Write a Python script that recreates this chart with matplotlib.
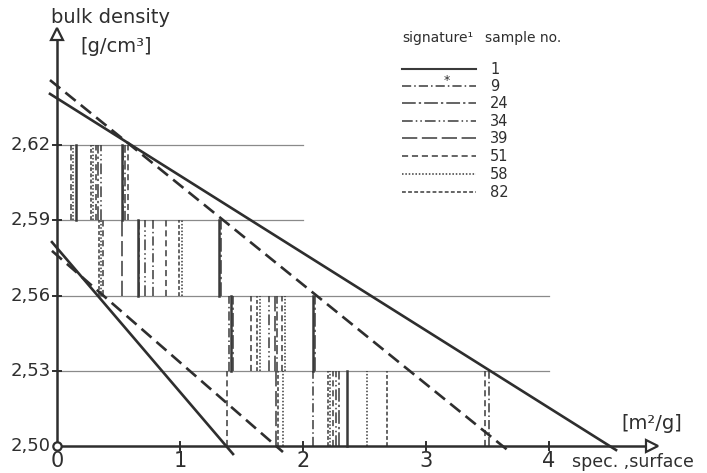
import matplotlib
matplotlib.use("Agg")
import matplotlib.pyplot as plt

plt.rcParams['font.family'] = ['DejaVu Sans']

# ---------------- data ----------------
samples = ['1', '9', '24', '34', '39', '51', '58', '82']
y_ticks = [2.50, 2.53, 2.56, 2.59, 2.62]
y_tick_labels = ['2,50', '2,53', '2,56', '2,59', '2,62']
x_ticks = [0, 1, 2, 3, 4]
x_tick_labels = ['0', '1', '2', '3', '4']

# horizontal level lines (density) and their right end (spec. surface)
level_y = [2.53, 2.56, 2.59, 2.62]
level_x_end = [4.0, 4.0, 2.0, 2.0]

# regression lines: (x start, x end), (y start, y end)
line_a_x = [-0.057, 4.545]
line_a_y = [2.6404, 2.4984]
line_b_x = [-0.057, 3.683]
line_b_y = [2.6459, 2.4976]
line_c_x = [-0.041, 1.431]
line_c_y = [2.5813, 2.4968]
line_d_x = [-0.041, 1.837]
line_d_y = [2.5778, 2.4976]

# specific surface values per density band (lower, upper) and sample signature
band_2_59_x = [0.114, 0.127, 0.155, 0.276, 0.295, 0.314, 0.336, 0.358, 0.525, 0.538, 0.55, 0.575]
band_2_59_s = ['51', '58', '1', '82', '58', '51', '24', '34', '1', '39', '9', '51']
band_2_56_x = [0.344, 0.358, 0.371, 0.53, 0.655, 0.67, 0.715, 0.78, 0.89, 0.99, 1.02, 1.32, 1.335]
band_2_56_s = ['82', '58', '51', '39', '1', '24', '34', '9', '51', '82', '58', '1', '24']
band_2_53_x = [1.40, 1.415, 1.43, 1.58, 1.63, 1.65, 1.72, 1.77, 1.79, 1.83, 1.85, 2.08, 2.10]
band_2_53_s = ['9', '1', '24', '51', '82', '58', '34', '39', '9', '51', '58', '1', '24']
band_2_50_x = [1.38, 1.78, 1.80, 1.84, 2.08, 2.20, 2.22, 2.24, 2.27, 2.29, 2.36, 2.52, 2.68, 3.48, 3.51]
band_2_50_s = ['51', '39', '82', '58', '9', '82', '58', '51', '34', '24', '1', '58', '82', '51', '9']

# ---------------- styles ----------------
styles = {
    '1': '-',
    '9': (0, (6, 2, 1, 2)),
    '24': (0, (9, 2, 1.5, 2)),
    '34': (0, (7, 2, 1, 2, 1, 2)),
    '39': (0, (10, 3)),
    '51': (0, (4, 2.5)),
    '58': (0, (1, 1.2)),
    '82': (0, (2.5, 1.5)),
}
INK = '#2e2e2e'

W, H = 707, 473
X0, XS = 57, 123.0     # pixel of x=0, pixels per unit
Y0, YS = 446, 2508.0   # pixel of y=2.50, pixels per unit


def px(x):
    return (x - X0) / XS


def py(y):
    return 2.5 + (Y0 - y) / YS


fig = plt.figure(figsize=(W / 100, H / 100), dpi=100)
ax = fig.add_axes([0, 0, 1, 1])
ax.set_xlim(px(0), px(W))
ax.set_ylim(py(H), py(0))
ax.axis('off')

# level lines
for yl, xe in zip(level_y, level_x_end):
    ax.plot([0, xe], [yl, yl], color='#8a8a8a', lw=0.9, zorder=1)

# vertical sample lines in bands
bands = [(2.50, 2.53, band_2_50_x, band_2_50_s),
         (2.53, 2.56, band_2_53_x, band_2_53_s),
         (2.56, 2.59, band_2_56_x, band_2_56_s),
         (2.59, 2.62, band_2_59_x, band_2_59_s)]
for lo, hi, xs, ss in bands:
    for xv, s in zip(xs, ss):
        lw = 1.8 if s == '1' else 1.1
        ax.plot([xv, xv], [lo, hi], color='#3a3a3a', lw=lw, ls=styles[s], zorder=2)

# regression lines
ax.plot(line_a_x, line_a_y, color=INK, lw=1.9, zorder=3)
ax.plot(line_b_x, line_b_y, color=INK, lw=1.9, ls=(0, (5, 2.5)), zorder=3)
ax.plot(line_c_x, line_c_y, color=INK, lw=1.9, zorder=3)
ax.plot(line_d_x, line_d_y, color=INK, lw=1.9, ls=(0, (5, 2.5)), zorder=3)

# axes
y_top = py(34)
x_right = px(652)
ax.plot([0, 0], [2.5, y_top], color=INK, lw=1.8, zorder=4)
ax.plot([0, x_right], [2.5, 2.5], color=INK, lw=1.8, zorder=4)
ax.plot([0], [y_top], marker='^', ms=8, mfc='white', mec=INK, mew=1.6, zorder=5)
ax.plot([x_right], [2.5], marker='>', ms=8, mfc='white', mec=INK, mew=1.6, zorder=5)
ax.plot([0], [2.5], marker='o', ms=6, mfc='white', mec=INK, mew=1.6, zorder=5)

for xt, lab in zip(x_ticks, x_tick_labels):
    if xt > 0:
        ax.plot([xt, xt], [py(Y0 - 4), py(Y0 + 4)], color=INK, lw=1.4, zorder=4)
    ax.text(xt, py(451), lab, ha='center', va='top', fontsize=15, color=INK)
for yt, lab in zip(y_ticks, y_tick_labels):
    if yt > 2.5:
        ax.plot([px(X0 - 4), px(X0 + 4)], [yt, yt], color=INK, lw=1.4, zorder=4)
    ax.text(px(51), yt, lab, ha='right', va='center', fontsize=13, color=INK)

# axis titles
ax.text(px(51), py(23), 'bulk density', ha='left', va='baseline', fontsize=14, color=INK)
ax.text(px(116), py(46), '[g/cm\u00b3]', ha='center', va='center', fontsize=14, color=INK)
ax.text(px(652), py(423), '[m\u00b2/g]', ha='center', va='center', fontsize=14, color=INK)
ax.text(px(572), py(467), 'spec. ,surface', ha='left', va='baseline', fontsize=12.5, color=INK)

# legend
ax.text(px(402), py(42), 'signature\u00b9', ha='left', va='baseline', fontsize=10, color=INK)
ax.text(px(485), py(42), 'sample no.', ha='left', va='baseline', fontsize=10, color=INK)
row_y = [69, 86, 103, 121, 138, 156, 174, 192]
for s, ry in zip(samples, row_y):
    lw = 1.5 if s == '1' else 1.1
    ax.plot([px(402), px(476)], [py(ry), py(ry)], color='#3a3a3a', lw=lw, ls=styles[s])
    ax.text(px(490), py(ry), s, ha='left', va='center', fontsize=10.5, color=INK)
ax.text(px(447), py(80), '*', ha='center', va='center', fontsize=9, color=INK)

fig.savefig('out.png', dpi=100)
